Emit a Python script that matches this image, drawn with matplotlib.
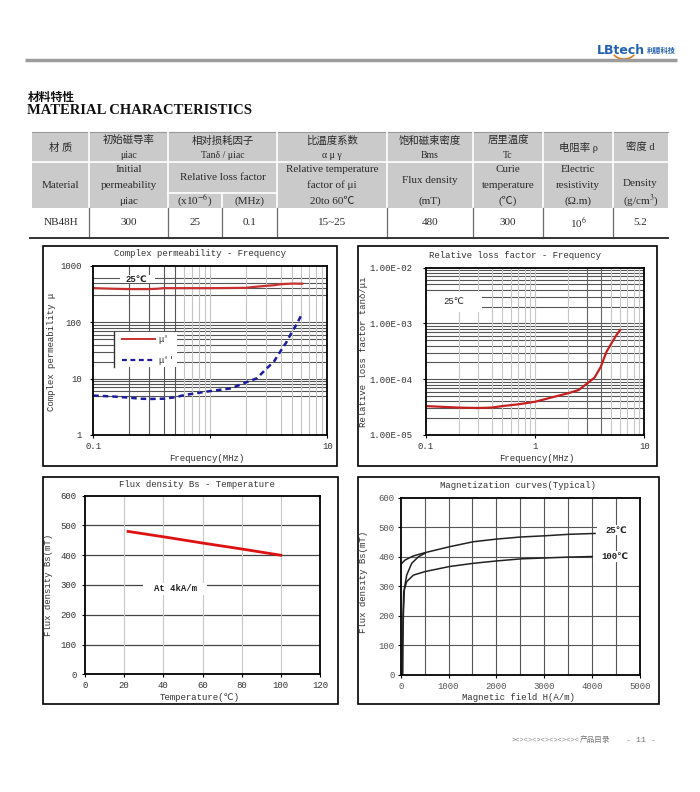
import matplotlib
matplotlib.use("Agg")
import matplotlib.pyplot as plt
from matplotlib.patches import Rectangle, Arc
from matplotlib.ticker import NullLocator

plt.rcParams['font.family'] = ['Liberation Mono', 'DejaVu Sans']
plt.rcParams['mathtext.fontset'] = 'stix'
plt.rcParams['axes.unicode_minus'] = False

# ------------------------------------------------------------------ data
hdr_cn = ["材 质", "初始磁导率", "相对损耗因子", "比温度系数", "饱和磁束密度", "居里温度", "电阻率 ρ", "密度 d"]
hdr_sym = ["", "μiac", "Tanδ / μiac", "α μ γ", "Bms", "Tc", "", ""]
hdr_en = ["Material", "Initial\npermeability", "Relative loss factor", "Relative temperature\nfactor of μi",
          "Flux density", "Curie\ntemperature", "Electric\nresistivity", "Density"]
hdr_unit = ["", "μiac", "(x10$^{-6}$)", "(MHz)", "20to 60℃", "(mT)", "(℃)", "(Ω.m)", "(g/cm$^{3}$)"]
row_values = ["NB48H", "300", "25", "0.1", "15~25", "480", "300", "10$^{6}$", "5.2"]

# Complex permeability - Frequency
p1_freq_r = [0.1, 0.15, 0.2, 0.3, 0.35, 0.4, 0.6, 1.0, 2.0, 2.5, 3.0, 3.5, 4.0, 5.0, 6.1]
p1_mu_r = [400, 390, 385, 385, 390, 400, 400, 400, 405, 425, 440, 450, 470, 482, 480]
p1_freq_i = [0.1, 0.15, 0.2, 0.25, 0.3, 0.4, 0.5, 0.6, 0.8, 1.0, 1.5, 2.0, 2.5, 3.0, 3.5, 4.0, 4.5, 5.0, 5.5, 6.0]
p1_mu_i = [5.0, 4.8, 4.6, 4.4, 4.35, 4.4, 4.66, 5.1, 5.6, 6.0, 6.7, 8.5, 10.1, 14.8, 20, 31, 45, 68, 93, 134]

# Relative loss factor - Frequency
p2_freq = [0.1, 0.2, 0.3, 0.4, 0.5, 0.7, 1.0, 1.5, 2.0, 2.5, 3.0, 3.5, 4.0, 4.5, 5.0, 5.5, 6.0]
p2_loss = [3.3e-5, 3.1e-5, 3.05e-5, 3.1e-5, 3.3e-5, 3.55e-5, 3.95e-5, 4.85e-5, 5.6e-5, 6.4e-5,
           8.4e-5, 1.07e-4, 1.68e-4, 3.1e-4, 4.4e-4, 6.0e-4, 7.6e-4]

# Flux density Bs - Temperature
p3_temp = [22, 40, 60, 80, 100]
p3_bs = [480, 462, 441, 421, 400]

# Magnetization curves
p4_h25a = [0, 90, 265, 508, 1017, 1518, 2006, 2507, 3002, 3503, 4060]
p4_b25a = [374, 389, 403, 414, 434, 451, 460, 467, 471, 476, 479]
p4_h25b = [42, 45, 56, 77, 125, 230, 369, 508]
p4_b25b = [0, 100, 203, 293, 338, 378, 400, 412]
p4_h100 = [35, 40, 49, 63, 125, 265, 508, 1017, 1518, 2006, 2507, 3002, 3503, 4004]
p4_b100 = [0, 100, 203, 282, 316, 338, 350, 367, 378, 386, 393, 396, 399, 401]

# ------------------------------------------------------------------ figure
W, H = 700, 792
fig = plt.figure(figsize=(W / 100, H / 100), dpi=100)
fig.patch.set_facecolor('white')

ov = fig.add_axes([0, 0, 1, 1])
ov.set_xlim(0, W)
ov.set_ylim(H, 0)
ov.axis('off')
ov.set_zorder(0)

SERIF = ['Liberation Serif', 'Noto Sans CJK SC']
MONO = ['Liberation Mono', 'DejaVu Sans']
CJK = ['Noto Sans CJK SC', 'DejaVu Sans']
TXT = '#2a2a2a'

# header: logo + rule
ov.text(597, 50, "LBtech", fontsize=9, fontweight='bold', color='#2462b0',
        family=['DejaVu Sans'], ha='left', va='center')
ov.text(647, 50, "利德科技", fontsize=5.2, fontweight='bold', color='#2462b0',
        family=CJK, ha='left', va='center')
ov.add_patch(Arc((624, 50), 24, 18, theta1=25, theta2=155, color='#e07a20', lw=1.2))
ov.plot([25, 677], [60, 60], color='#9c9c9c', lw=2.5, solid_capstyle='butt')

ov.text(28, 97, "材料特性", fontsize=8.5, fontweight='bold', family=CJK, ha='left', va='center', color='#111')
ov.text(27, 111, "MATERIAL CHARACTERISTICS", fontsize=10.5, fontweight='bold', family=SERIF,
        ha='left', va='center', color='#111')

# ------------------------------------------------------------------ table
cx = [32, 89, 168, 222, 277, 387, 473, 543, 613, 668]
spans = [(0, 1), (1, 2), (2, 4), (4, 5), (5, 6), (6, 7), (7, 8), (8, 9)]
y_top, y_r1, y_sub, y_gray, y_bot = 132, 162, 193, 208, 238

ov.add_patch(Rectangle((cx[0], y_top), cx[-1] - cx[0], y_gray - y_top, fc='#cacaca', ec='none', zorder=1))
ov.plot([cx[0], cx[-1]], [y_top, y_top], color='#9a9a9a', lw=0.8, zorder=2)
ov.plot([cx[0], cx[-1]], [y_r1, y_r1], color='white', lw=1.2, zorder=2)
ov.plot([cx[2], cx[4]], [y_sub, y_sub], color='white', lw=1.2, zorder=2)
for i in [1, 2, 4, 5, 6, 7, 8]:
    ov.plot([cx[i], cx[i]], [y_top, y_gray], color='white', lw=1.2, zorder=2)
ov.plot([cx[3], cx[3]], [y_sub, y_gray], color='white', lw=1.2, zorder=2)
for i in range(1, 9):
    ov.plot([cx[i], cx[i]], [y_gray, y_bot], color='#6a6a6a', lw=0.9, zorder=2)
ov.plot([cx[0] - 2, cx[-1]], [y_bot, y_bot], color='#333333', lw=1.4, zorder=2)

def ttext(x, y, s, size=8):
    ov.text(x, y, s, fontsize=size, family=SERIF, ha='center', va='center', color=TXT, zorder=3)

single_en_y = [185, None, 177.5, None, 180.5, None, None, 183]
for k, (a, b) in enumerate(spans):
    xc = (cx[a] + cx[b]) / 2
    if hdr_sym[k]:
        ttext(xc, 140.5, hdr_cn[k], 7.5)
        ttext(xc, 155.5, hdr_sym[k], 7)
    else:
        ttext(xc, 147.5, hdr_cn[k], 7.5)
    parts = hdr_en[k].split("\n")
    if len(parts) == 2:
        ttext(xc, 170, parts[0])
        ttext(xc, 185.5, parts[1])
    else:
        ttext(xc, single_en_y[k], parts[0])

for i in range(9):
    xc = (cx[i] + cx[i + 1]) / 2
    if hdr_unit[i]:
        ttext(xc, 201, hdr_unit[i])
    ttext(xc, 222.5, row_values[i])

# ------------------------------------------------------------------ chart helpers
def px_axes(x0, y0, x1, y1, ypad):
    ax = fig.add_axes([x0 / W, 1 - y1 / H, (x1 - x0) / W, (y1 - y0) / H])
    ax.set_zorder(1)
    ax.set_facecolor('white')
    for s in ax.spines.values():
        s.set_linewidth(1.3)
        s.set_color('black')
        s.set_zorder(5)
    ax.tick_params(direction='out', length=2.5, width=0.8, labelsize=6.5, labelcolor='#333333')
    ax.tick_params(axis='x', pad=2.6)
    ax.tick_params(axis='y', pad=ypad)
    return ax

def frame(x0, y0, x1, y1):
    ov.add_patch(Rectangle((x0, y0), x1 - x0, y1 - y0, fill=False, ec='black', lw=1.2, zorder=2))

def label(x, y, s, rot=0, size=6.5):
    ov.text(x, y, s, fontsize=size, family=MONO, ha='center', va='center', rotation=rot,
            color='#333333', zorder=3)

def hgrid(ax, vals, color, lw=0.8):
    for v in vals:
        ax.axhline(v, color=color, lw=lw, zorder=1)

def vgrid(ax, vals, color, lw=0.8):
    for v in vals:
        ax.axvline(v, color=color, lw=lw, zorder=1)

# ------------------------------------------------------------------ panel 1
frame(43, 246, 337, 466)
ax1 = px_axes(93.3, 265.7, 327.3, 435, 5.8)
ax1.set_xscale('log'); ax1.set_yscale('log')
ax1.set_xlim(0.1, 10); ax1.set_ylim(1, 1000)
ax1.set_xticks([0.1, 1, 10]); ax1.set_xticklabels(["0.1", "", "10"])
ax1.set_yticks([1, 10, 100, 1000]); ax1.set_yticklabels(["1", "10", "100", "1000"])
ax1.xaxis.set_minor_locator(NullLocator()); ax1.yaxis.set_minor_locator(NullLocator())
hgrid(ax1, [5, 6, 7, 8, 9, 10, 20, 30, 40, 50, 60, 70, 80, 90, 100, 300, 400, 500, 600], '#555555')
vgrid(ax1, [0.2, 0.3, 0.4, 0.5], '#555555')
vgrid(ax1, [0.6, 0.7, 0.8, 0.9, 1, 2, 3, 4, 5, 6, 7, 8, 9], '#c4c4c4')
ax1.plot(p1_freq_r, p1_mu_r, color='#c83030', lw=1.6, zorder=3)
ax1.plot(p1_freq_i, p1_mu_i, color='#1c1ca0', lw=1.8, dashes=(2.2, 1.6), zorder=3)
# 25C label
ax1.add_patch(Rectangle((0.114, 0.895), 0.15, 0.05, transform=ax1.transAxes, fc='white', ec='none', zorder=2))
ax1.text(0.185, 0.921, "25℃", transform=ax1.transAxes, fontsize=6.5, fontweight='bold',
         ha='center', va='center', family=MONO, zorder=4, color='#222')
# legend
ax1.add_patch(Rectangle((0.0885, 0.40), 0.27, 0.208, transform=ax1.transAxes, fc='white', ec='none', zorder=2))
ax1.plot([0.0885, 0.0885], [0.40, 0.608], transform=ax1.transAxes, color='#333333', lw=1.0, zorder=3)
ax1.plot([0.121, 0.264], [0.565, 0.565], transform=ax1.transAxes, color='#c83030', lw=1.4, zorder=3)
ax1.plot([0.121, 0.264], [0.443, 0.443], transform=ax1.transAxes, color='#1c1ca0', lw=1.6,
         dashes=(2.2, 1.6), zorder=3)
ax1.text(0.278, 0.565, "μ'", transform=ax1.transAxes, fontsize=6.5, ha='left', va='center', zorder=4, color='#333')
ax1.text(0.278, 0.443, "μ''", transform=ax1.transAxes, fontsize=6.5, ha='left', va='center', zorder=4, color='#333')
label(200, 253, "Complex permeability - Frequency")
label(206.7, 458.5, "Frequency(MHz)")
label(52, 352, "Complex permeability μ", rot=90)

# ------------------------------------------------------------------ panel 2
frame(357.7, 246, 656.7, 466)
ax2 = px_axes(426, 267.7, 644.3, 435, 7.6)
ax2.set_xscale('log'); ax2.set_yscale('log')
ax2.set_xlim(0.1, 10); ax2.set_ylim(1e-5, 1e-2)
ax2.set_xticks([0.1, 1, 10]); ax2.set_xticklabels(["0.1", "1", "10"])
ax2.set_yticks([1e-5, 1e-4, 1e-3, 1e-2])
ax2.set_yticklabels(["1.00E-05", "1.00E-04", "1.00E-03", "1.00E-02"])
ax2.xaxis.set_minor_locator(NullLocator()); ax2.yaxis.set_minor_locator(NullLocator())
hgrid(ax2, [m * 10.0 ** e for e in (-5, -4, -3) for m in (1, 2, 3, 4, 5, 6, 7, 8, 9)], '#555555')
vgrid(ax2, [0.2, 0.3, 0.4, 0.5, 0.6, 0.7, 0.8, 0.9, 1, 2, 5, 6, 7, 8, 9], '#c8c8c8')
vgrid(ax2, [3, 4], '#666666')
ax2.plot(p2_freq, p2_loss, color='#c42020', lw=1.6, zorder=3)
ax2.add_patch(Rectangle((0.003, 0.737), 0.252, 0.12, transform=ax2.transAxes, fc='white', ec='none', zorder=2))
ax2.text(0.125, 0.797, "25℃", transform=ax2.transAxes, fontsize=6.5, ha='center', va='center',
         family=MONO, zorder=4, color='#222')
label(515, 255, "Relative loss factor - Frequency")
label(536.7, 458.5, "Frequency(MHz)")
label(363.5, 352, "Relative loss factor tanδ/μi", rot=90)

# ------------------------------------------------------------------ panel 3
frame(42.7, 477, 337.7, 703.5)
ax3 = px_axes(85, 495.7, 320, 674.3, 3.4)
ax3.set_xlim(0, 120); ax3.set_ylim(0, 600)
ax3.set_xticks(range(0, 121, 20)); ax3.set_yticks(range(0, 601, 100))
hgrid(ax3, [100, 200, 300, 400, 500], '#444444', lw=0.9)
vgrid(ax3, [20, 40, 60, 80, 100], '#c8c8c8')
ax3.plot(p3_temp, p3_bs, color='#dd1111', lw=2.0, zorder=3)
ax3.add_patch(Rectangle((0.248, 0.444), 0.27, 0.067, transform=ax3.transAxes, fc='white', ec='none', zorder=2))
ax3.text(0.383, 0.478, "At 4kA/m", transform=ax3.transAxes, fontsize=6.5, fontweight='bold',
         ha='center', va='center', family=MONO, zorder=4, color='#222')
label(196.7, 484.5, "Flux density Bs - Temperature")
label(200, 697.5, "Temperature(℃)")
label(48.3, 585, "Flux density Bs(mT)", rot=90)

# ------------------------------------------------------------------ panel 4
frame(357.7, 477, 659, 703.5)
ax4 = px_axes(400.7, 497.7, 640, 675, 1.8)
ax4.set_xlim(0, 5000); ax4.set_ylim(0, 600)
ax4.set_xticks(range(0, 5001, 1000)); ax4.set_yticks(range(0, 601, 100))
ax4.tick_params(labelcolor='#555555')
vgrid(ax4, [500, 1000, 1500, 2000, 2500, 3000, 3500, 4000, 4500], '#555555')
hgrid(ax4, [100, 200, 300, 400, 500], '#555555')
ax4.plot(p4_h25a, p4_b25a, color='#222222', lw=1.1, zorder=3)
ax4.plot(p4_h25b, p4_b25b, color='#222222', lw=1.1, zorder=3)
ax4.plot(p4_h100, p4_b100, color='#222222', lw=1.1, zorder=3)
ax4.add_patch(Rectangle((0.819, 0.79), 0.181, 0.056, transform=ax4.transAxes, fc='white', ec='none', zorder=2))
ax4.text(0.903, 0.818, "25℃", transform=ax4.transAxes, fontsize=6.5, fontweight='bold',
         ha='center', va='center', family=MONO, zorder=4, color='#222')
ax4.add_patch(Rectangle((0.803, 0.64), 0.197, 0.062, transform=ax4.transAxes, fc='white', ec='none', zorder=2))
ax4.text(0.895, 0.671, "100℃", transform=ax4.transAxes, fontsize=6.5, fontweight='bold',
         ha='center', va='center', family=MONO, zorder=4, color='#222')
label(518, 485, "Magnetization curves(Typical)")
label(518.3, 697.5, "Magnetic field H(A/m)")
label(363, 581.7, "Flux density Bs(mT)", rot=90)

# ------------------------------------------------------------------ footer
ov.text(512, 740, "><><><><><><><><", fontsize=5, family=MONO, ha='left', va='center', color='#888888')
ov.text(580, 740, "产品目录", fontsize=5.5, family=CJK, ha='left', va='center', color='#777777')
ov.text(641, 740, "- 11 -", fontsize=6, family=MONO, ha='center', va='center', color='#777777')

fig.savefig("out.png", dpi=100, facecolor='white')
